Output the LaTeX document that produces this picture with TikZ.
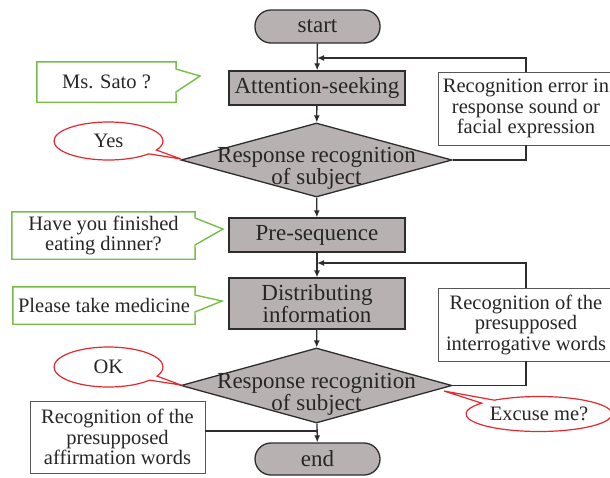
\documentclass[tikz,border=0pt]{standalone}
\usepackage{fontspec}
\setmainfont{Liberation Serif}
\usetikzlibrary{shapes.geometric,shapes.callouts,arrows.meta}
\definecolor{boxgrey}{RGB}{184,177,177}
\definecolor{lineg}{RGB}{45,45,45}
\definecolor{callg}{RGB}{118,190,72}
\definecolor{callr}{RGB}{228,40,45}
\tikzset{
  mainfont/.style={font=\fontsize{23}{19}\selectfont, text=black!85},
  sidefont/.style={font=\fontsize{20.5}{20.5}\selectfont, text=black!85},
  procbox/.style={rectangle, draw=lineg, fill=boxgrey, line width=1.3pt, inner sep=0pt, mainfont, align=center},
  term/.style={procbox, rounded corners=16pt, minimum width=125pt, minimum height=33pt},
  decbox/.style={diamond, draw=lineg, fill=boxgrey, line width=1.3pt, inner sep=0pt, minimum width=271pt, minimum height=74pt},
  notebox/.style={rectangle, draw=lineg!80, fill=white, line width=0.9pt, inner sep=0pt, sidefont, align=center},
  greencall/.style={draw=callg, line width=1.4pt, line join=miter},
  redcall/.style={ellipse callout, draw=callr, fill=white, line width=1.2pt, inner sep=0pt, sidefont, callout pointer arc=14},
  conn/.style={draw=lineg, line width=1.3pt},
  arr/.style={conn, -{Latex[length=7pt,width=6pt]}}
}
\begin{document}
\begin{tikzpicture}[x=1pt,y=-1pt]
\useasboundingbox (0,0) rectangle (610,477);

% main flow
\node[term] (start) at (317.5,26.5) {start};
\node[procbox, minimum width=176pt, minimum height=34pt] (att) at (317,88) {Attention-seeking};
\node[decbox] (d1) at (316.5,160) {};
\node[mainfont, align=center, inner sep=0pt] (d1t) at (316.5,168) {Response recognition\\of subject};
\node[procbox, minimum width=176pt, minimum height=34pt] (pre) at (317,235) {Pre-sequence};
\node[procbox, minimum width=176pt, minimum height=51pt] (dist) at (317,303.5) {Distributing\\information};
\node[decbox, minimum height=75pt] (d2) at (316.5,385.5) {};
\node[mainfont, align=center, inner sep=0pt] (d2t) at (316.5,394) {Response recognition\\of subject};
\node[term, minimum height=32pt] (end) at (317.5,459) {end};

% side boxes
\node[notebox, minimum width=176pt, minimum height=73pt] (err) at (526,108.5) {Recognition error in\\response sound or\\facial expression};
\node[notebox, minimum width=176pt, minimum height=73pt] (int) at (526,324.5) {Recognition of the\\presupposed\\interrogative words};
\node[notebox, minimum width=175pt, minimum height=72pt] (aff) at (117.5,437) {Recognition of the\\presupposed\\affirmation words};

% coordinates
\coordinate (j1) at (317,58);
\coordinate (j2) at (317,263);
\coordinate (j3) at (317,431);

% connectors
\draw[arr] (start) -- (att);
\draw[arr] (att) -- (d1);
\draw[arr] (d1) -- (pre);
\draw[arr] (pre) -- (dist);
\draw[arr] (dist) -- (d2);
\draw[arr] (d2) -- (end);
\draw[conn] (d1.east) -| (err.south);
\draw[arr] (err.north) |- (j1);
\draw[conn] (d2.east) -| (int.south);
\draw[arr] (int.north) |- (j2);
\draw[conn] (j3 -| aff.east) -- (j3);

% green callouts
\node[sidefont, minimum width=139pt, minimum height=40pt, inner sep=0pt] (c1) at (106.5,82) {Ms. Sato ?};
\draw[greencall] (c1.north west) -- (c1.north east) -- (176,69) -- (200,76) -- (176,92) -- (c1.south east) -- (c1.south west) -- cycle;
\node[sidefont, align=center, minimum width=183pt, minimum height=47pt, inner sep=0pt] (c2) at (103.5,235.5) {Have you finished\\eating dinner?};
\draw[greencall] (c2.north west) -- (c2.north east) -- (195,218) -- (223,229) -- (195,245) -- (c2.south east) -- (c2.south west) -- cycle;
\node[sidefont, minimum width=182pt, minimum height=37pt, inner sep=0pt] (c3) at (104,305.5) {Please take medicine};
\draw[greencall] (c3.north west) -- (c3.north east) -- (195,295) -- (222,301) -- (195,312) -- (c3.south east) -- (c3.south west) -- cycle;

% red callouts
\node[redcall, minimum width=109pt, minimum height=38pt, callout absolute pointer={(181,159)}] (yes) at (108.5,141) {Yes};
\node[redcall, minimum width=109pt, minimum height=40pt, callout absolute pointer={(181,385)}] (ok) at (108.5,367) {OK};
\node[redcall, minimum width=146pt, minimum height=35pt, callout absolute pointer={(444,391)}] (exc) at (539,414) {Excuse me?};
\end{tikzpicture}
\end{document}
